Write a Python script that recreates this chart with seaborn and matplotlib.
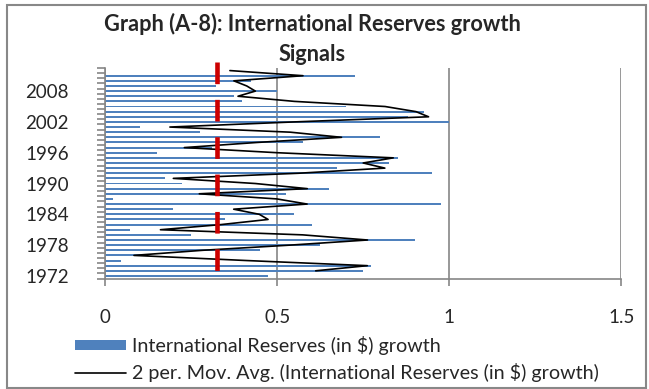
import numpy as np
import pandas as pd
import matplotlib
matplotlib.use("Agg")
import matplotlib.pyplot as plt
from matplotlib.patches import Patch, Rectangle
from matplotlib.lines import Line2D
from matplotlib.ticker import FixedLocator
import seaborn as sns

# Annual growth of international reserves (in $), 1972-2012
years = list(range(1972, 2013))
growth = [
    0.474, 0.750, 0.774, 0.047, 0.120, 0.449, 0.625, 0.900, 0.248, 0.073,
    0.600, 0.347, 0.549, 0.198, 0.976, 0.022, 0.525, 0.650, 0.223, 0.173,
    0.951, 0.675, 0.825, 0.850, 0.150, 0.310, 0.574, 0.800, 0.276, 0.100,
    1.000, 0.880, 0.927, 0.700, 0.399, 0.373, 0.500, 0.323, 0.425, 0.725,
    0.000,
]
signal_threshold = 0.325

label_years = [1972, 1978, 1984, 1990, 1996, 2002, 2008]
x_ticks = [0, 0.5, 1, 1.5]
x_tick_labels = ["0", "0.5", "1", "1.5"]

title = "Graph (A-8): International Reserves growth\nSignals"
bar_label = "International Reserves (in $) growth"
ma_label = "2 per. Mov. Avg. (International Reserves (in $) growth)"

BAR_BLUE = "#4F81BD"
AXIS_GREY = "#868686"
SIGNAL_RED = "#CC0000"

sns.set_style("white")
plt.rcParams["font.family"] = ["Lato", "DejaVu Sans"]
plt.rcParams["lines.scale_dashes"] = False

df = pd.DataFrame({"year": years, "growth": growth})
df["ma"] = df["growth"].rolling(2).mean()

fig = plt.figure(figsize=(6.49, 3.89), dpi=100)
W, H = 649, 389
ax = fig.add_axes([105.2 / W, 1 - 278.5 / H, 516 / W, (278.5 - 68) / H])

sns.barplot(
    data=df, x="growth", y="year", orient="h", native_scale=True,
    color=BAR_BLUE, saturation=1, width=0.38, linewidth=0, ax=ax, zorder=2,
)

sns.lineplot(
    data=df.dropna(), x="ma", y="year", orient="y", estimator=None,
    color="black", linewidth=1.2, ax=ax, zorder=3,
)

# threshold marker drawn as a heavy dashed vertical line
ax.plot(
    [signal_threshold, signal_threshold], [2013.7, 1971.5],
    color=SIGNAL_RED, linewidth=3.3, dashes=(15.6, 11.3),
    dash_capstyle="butt", clip_on=False, zorder=4,
)

ax.set_xlim(0, 1.5)
ax.set_ylim(1971.5, 2012.5)
ax.set_xlabel("")
ax.set_ylabel("")

ax.set_xticks(x_ticks, x_tick_labels)
ax.set_yticks(label_years, [str(y) for y in label_years])
ax.yaxis.set_minor_locator(FixedLocator(np.arange(1971.5, 2013.0, 1.0)))

ax.tick_params(axis="y", which="major", length=0, pad=26, labelsize=13.5)
ax.tick_params(axis="y", which="minor", left=True, length=5.5, width=1.2,
               color=AXIS_GREY)
ax.tick_params(axis="x", which="major", bottom=True, length=5, width=1.2,
               color=AXIS_GREY, pad=17, labelsize=13.5)

ax.grid(axis="x", color=AXIS_GREY, linewidth=1.2)
ax.grid(axis="y", visible=False)
ax.set_axisbelow(True)
for side in ("top", "right"):
    ax.spines[side].set_visible(False)
for side in ("left", "bottom"):
    ax.spines[side].set_color(AXIS_GREY)
    ax.spines[side].set_linewidth(1.2)

fig.text(312 / W, 1 - 13 / H, title, ha="center", va="top", fontsize=15.7,
         fontweight="bold", linespacing=1.5, multialignment="center")

handles = [
    Patch(facecolor=BAR_BLUE, edgecolor="none"),
    Line2D([], [], color="black", linewidth=1.2),
]
fig.legend(
    handles, [bar_label, ma_label], loc="upper left",
    bbox_to_anchor=(75 / W, 1 - 336 / H), frameon=False, fontsize=14.2,
    handlelength=2.6, handleheight=0.4, handletextpad=0.3,
    labelspacing=0.4, borderpad=0, borderaxespad=0,
)

# chart-area border
fig.patches.append(Rectangle(
    (7 / W, 1 - 388 / H), (646 - 7) / W, (388 - 5) / H,
    transform=fig.transFigure, fill=False, edgecolor="#888888", linewidth=1.5,
))

fig.savefig("out.png", dpi=100)
